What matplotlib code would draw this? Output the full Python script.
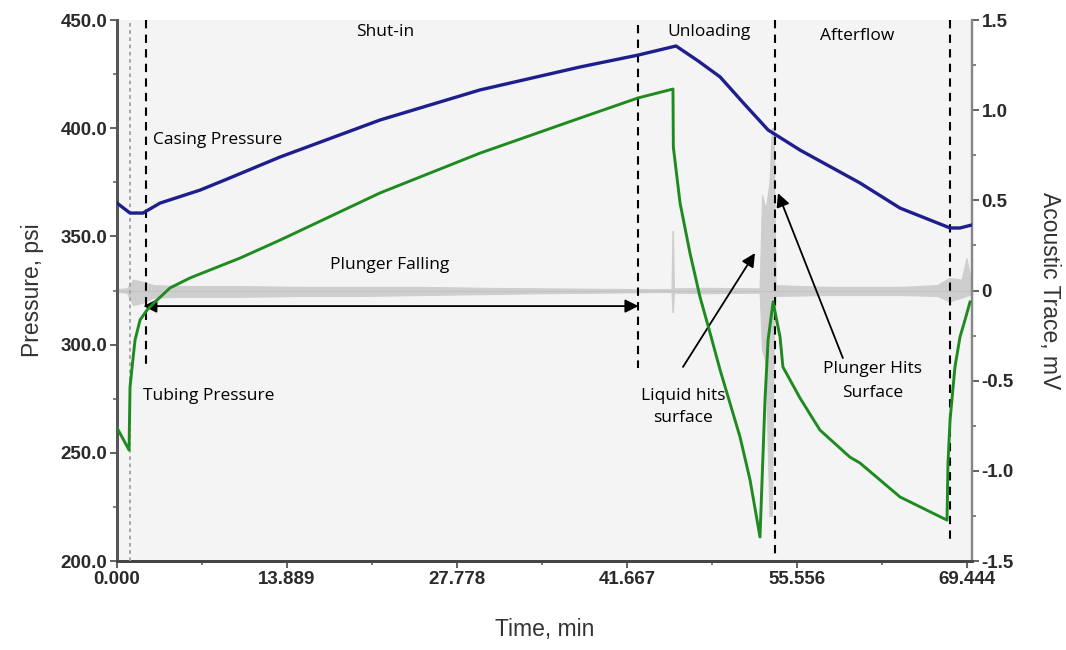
"""
Plunger lift cycle: casing / tubing pressure with acoustic trace.
"""
import matplotlib
matplotlib.use("Agg")
import matplotlib.pyplot as plt
import numpy as np

OUTPUT = "out.png"

# casing pressure (psi) vs time (min)
casing_t = [0.0, 1.06, 2.12, 3.51, 6.78, 8.82, 13.32, 21.49, 29.66, 37.83,
            42.57, 45.67, 47.5, 49.27, 51.2, 53.19, 55.8, 60.7, 63.97, 68.06,
            68.87, 69.85]
casing_p = [365.4, 360.8, 360.8, 365.4, 371.4, 376.1, 386.7, 403.8, 417.7, 428.3,
            433.8, 438.0, 431.0, 423.7, 411.5, 399.2, 389.9, 374.7, 363.1, 353.9,
            353.9, 355.3]

# tubing pressure (psi) vs time (min)
tubing_t = [0.0, 0.98, 1.06, 1.23, 1.47, 1.88, 2.45, 3.1, 4.33, 5.96, 7.6,
            10.05, 13.32, 21.49, 29.66, 37.83, 42.57, 45.42, 45.45, 46.0,
            46.81, 47.63, 48.45, 49.27, 50.9, 51.72, 52.53, 52.7, 52.94,
            53.19, 53.6, 54.17, 54.4, 55.8, 57.43, 59.88, 60.7, 63.97, 67.81,
            67.89, 68.06, 68.46, 68.87, 69.28, 69.69]
tubing_p = [261.5, 251.3, 280.4, 289.6, 302.1, 311.4, 316.0, 319.7, 326.2,
            330.8, 334.5, 340.0, 348.3, 370.1, 388.5, 404.7, 414.0, 418.1,
            391.3, 365.4, 342.3, 322.0, 305.4, 288.3, 257.3, 237.4, 211.1,
            237.4, 274.4, 302.1, 319.7, 303.5, 289.7, 275.3, 260.5, 248.0,
            245.3, 229.6, 218.9, 245.3, 265.2, 289.7, 303.5, 311.4, 319.7]

# acoustic trace envelope (mV)
acoustic_t = [0.0, 0.8, 1.3, 2.0, 3.0, 5.0, 10.0, 15.0, 20.0, 25.0, 30.0,
              35.0, 42.0, 45.3, 45.38, 45.42, 45.5, 48.0, 52.5, 52.7, 53.0,
              53.3, 53.5, 53.65, 53.8, 58.0, 64.0, 67.0, 68.0, 69.0, 69.4, 69.85]
acoustic_hi = [0.008, 0.012, 0.06, 0.05, 0.03, 0.025, 0.025, 0.02, 0.02, 0.02,
               0.015, 0.012, 0.008, 0.008, 0.33, 0.33, 0.012, 0.015, 0.012,
               0.53, 0.45, 0.6, 0.9, 0.9, 0.03, 0.02, 0.02, 0.03, 0.07, 0.06,
               0.18, 0.03]
acoustic_lo = [-0.008, -0.012, -0.08, -0.07, -0.04, -0.035, -0.035, -0.03,
               -0.03, -0.025, -0.02, -0.015, -0.01, -0.008, -0.12, -0.12,
               -0.012, -0.015, -0.012, -0.33, -0.4, -1.25, -1.25, -0.3, -0.03,
               -0.025, -0.025, -0.03, -0.06, -0.04, -0.03, -0.02]

x_ticks = [0.0, 13.889, 27.778, 41.667, 55.556, 69.444]
x_labels = ["0.000", "13.889", "27.778", "41.667", "55.556", "69.444"]
y_ticks = [200, 250, 300, 350, 400, 450]
y2_ticks = [-1.5, -1.0, -0.5, 0.0, 0.5, 1.0, 1.5]
y2_labels = ["-1.5", "-1.0", "-0.5", "0", "0.5", "1.0", "1.5"]

BG = "#f4f4f4"
TICK_FONT = dict(family=["Liberation Sans Narrow", "Liberation Sans"],
                 weight="bold", size=13.5, color="#2a2a2a")
NOTE_FONT = dict(family=["Open Sans", "DejaVu Sans"], size=12.5, color="black")

fig = plt.figure(figsize=(10.66, 6.5), dpi=100)
ax2 = fig.add_axes([0.1098, 0.1369, 0.8020, 0.8323])
ax = ax2.twinx()
ax.yaxis.tick_left()
ax.yaxis.set_label_position("left")
ax2.yaxis.tick_right()
ax2.yaxis.set_label_position("right")
ax2.set_facecolor(BG)
ax.patch.set_visible(False)

# acoustic trace (behind the pressures)
ax2.fill_between(acoustic_t, acoustic_lo, acoustic_hi, color="#cecece", lw=0.8,
                 edgecolor="#cecece")
ax2.axhline(0, color="#c4c4c4", lw=1.0)
ax2.set_ylim(-1.5, 1.5)
ax2.set_yticks(y2_ticks)
ax2.set_yticklabels(y2_labels, **TICK_FONT)
ax2.set_yticks(np.arange(-1.25, 1.5, 0.5), minor=True)

ax.plot(casing_t, casing_p, color="#1e1e8c", lw=2.4, zorder=5)
ax.plot(tubing_t, tubing_p, color="#1f8a1f", lw=2.1, zorder=5)

ax.set_xlim(0, 69.85)
ax.set_ylim(200, 450)
ax.set_xticks(x_ticks)
ax2.set_xticks(x_ticks)
ax2.set_xticklabels(x_labels, **TICK_FONT)
ax2.set_xticks(np.arange(6.944, 69.4, 13.889), minor=True)
ax.set_yticks(y_ticks)
ax.set_yticklabels([f"{v:.1f}" for v in y_ticks], **TICK_FONT)
ax.set_yticks(range(225, 450, 50), minor=True)

# phase markers
ax.axvline(1.06, color="#a0a0a0", ls=(0, (2, 2)), lw=1.3, zorder=3)
ax.plot([2.37, 2.37], [450, 289.2], color="black", ls=(0, (4, 3)), lw=1.5)
ax.plot([42.57, 42.57], [447.7, 289.2], color="black", ls=(0, (4, 3)), lw=1.5)
ax.plot([53.76, 53.76], [450, 201.4], color="black", ls=(0, (4, 3)), lw=1.5)
ax.plot([68.06, 68.06], [450, 207.4], color="black", ls=(0, (4, 3)), lw=1.5)

ax.annotate("", xy=(2.15, 317.8), xytext=(42.6, 317.8),
            arrowprops=dict(arrowstyle="<|-|>", color="black", lw=1.3,
                            mutation_scale=20, shrinkA=0, shrinkB=0))
ax.annotate("", xy=(52.12, 342.3), xytext=(46.24, 289.7),
            arrowprops=dict(arrowstyle="-|>", color="black", lw=1.3,
                            mutation_scale=20, shrinkA=0, shrinkB=0))
ax.annotate("", xy=(54.0, 370.0), xytext=(59.3, 293.8),
            arrowprops=dict(arrowstyle="-|>", color="black", lw=1.3,
                            mutation_scale=20, shrinkA=0, shrinkB=0))

ax.text(21.9, 444.5, "Shut-in", ha="center", va="center", **NOTE_FONT)
ax.text(48.4, 444.5, "Unloading", ha="center", va="center", **NOTE_FONT)
ax.text(60.5, 442.5, "Afterflow", ha="center", va="center", **NOTE_FONT)
ax.text(2.94, 394.5, "Casing Pressure", ha="left", va="center", **NOTE_FONT)
ax.text(22.3, 336.8, "Plunger Falling", ha="center", va="center", **NOTE_FONT)
ax.text(2.12, 276.2, "Tubing Pressure", ha="left", va="center", **NOTE_FONT)
ax.text(46.24, 271.2, "Liquid hits\nsurface", ha="center", va="center",
        linespacing=1.5, **NOTE_FONT)
ax.text(61.7, 283.2, "Plunger Hits\nSurface", ha="center", va="center",
        linespacing=1.6, **NOTE_FONT)

LABEL_FONT = dict(family=["Liberation Sans", "DejaVu Sans"], size=16.5, color="#333333")
ax.set_ylabel("Pressure, psi", labelpad=12, **LABEL_FONT)
ax2.set_ylabel("Acoustic Trace, mV", rotation=270, labelpad=34, **LABEL_FONT)
ax2.set_xlabel("Time, min", labelpad=22, **LABEL_FONT)

for a in (ax, ax2):
    a.spines["top"].set_visible(False)
    a.spines["left"].set_color("#555555")
    a.spines["left"].set_linewidth(2.0)
    a.spines["bottom"].set_color("#444444")
    a.spines["bottom"].set_linewidth(2.0)
    a.spines["right"].set_color("#888888")
    a.spines["right"].set_linewidth(1.6)
    a.tick_params(which="major", length=5, width=1.3, color="#555555", pad=2)
    a.tick_params(which="minor", length=3, width=1.3, color="#777777")
ax.tick_params(axis="x", which="both", bottom=False, labelbottom=False)

fig.savefig(OUTPUT, dpi=100, facecolor="white")
print(f"plot saved: {OUTPUT}")
